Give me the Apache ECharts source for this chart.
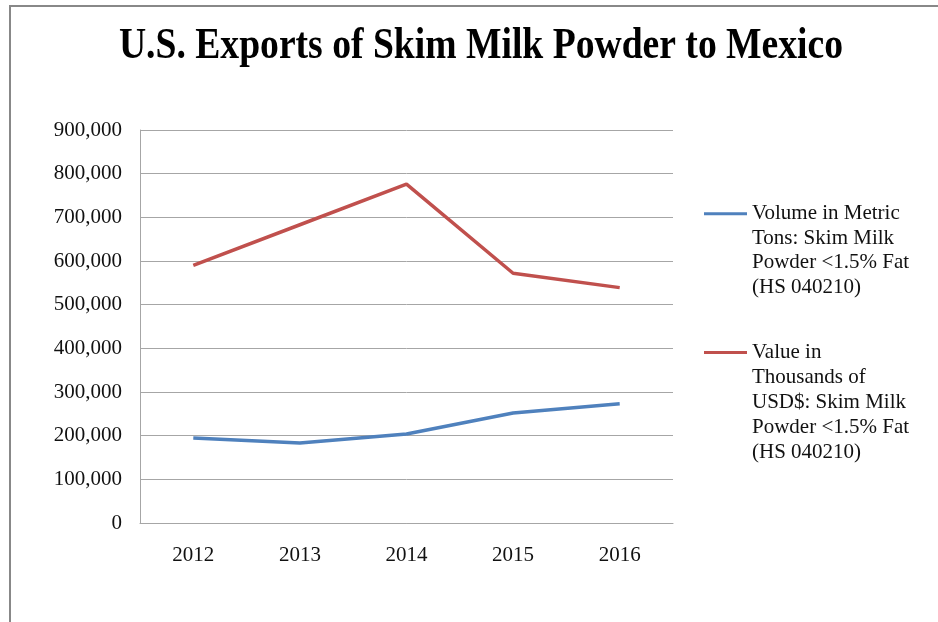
<!DOCTYPE html>
<html>
<head>
<meta charset="utf-8">
<script src="https://cdn.jsdelivr.net/npm/echarts@6/dist/echarts.min.js"></script>
<style>
html,body{margin:0;padding:0;background:#fff;}
#chart{width:938px;height:622px;}
</style>
</head>
<body>
<div id="chart"></div>
<script>
var titleText = 'U.S. Exports of Skim Milk Powder to Mexico';
var years = ['2012', '2013', '2014', '2015', '2016'];
var volumeName = 'Volume in Metric Tons: Skim Milk Powder <1.5% Fat (HS 040210)';
var valueName = 'Value in Thousands of USD$: Skim Milk Powder <1.5% Fat (HS 040210)';
var volumeData = [194500, 183000, 204000, 252000, 273000];
var valueData = [590000, 683000, 776000, 572000, 539000];
var volumeLegendLines = ['Volume in Metric', 'Tons: Skim Milk', 'Powder <1.5% Fat', '(HS 040210)'];
var valueLegendLines = ['Value in', 'Thousands of', 'USD$: Skim Milk', 'Powder <1.5% Fat', '(HS 040210)'];

var FONT = '"Liberation Serif", "Times New Roman", serif';
var chart = echarts.init(document.getElementById('chart'), null, {renderer: 'canvas'});

function padLines(lines) {
  var pad = [];
  for (var i = 0; i < lines.length - 1; i++) pad.push('');
  return pad.concat(lines).join('\n');
}

chart.setOption({
  backgroundColor: '#fff',
  animation: false,
  graphic: [
    {type: 'rect', shape: {x: 10, y: 6, width: 940, height: 630}, style: {fill: 'none', stroke: '#888', lineWidth: 2}, silent: true},
    {type: 'text', x: 481, y: 47, scaleX: 0.855, style: {text: titleText, font: 'bold 44px ' + FONT, fill: '#000', align: 'center', verticalAlign: 'middle'}}
  ],
  grid: {left: 140, right: 265, top: 130, bottom: 99},
  legend: [
    {
      data: [volumeName], left: 704, top: 128, padding: 0, orient: 'vertical',
      itemWidth: 43, itemHeight: 3, icon: 'rect',
      formatter: function () { return padLines(volumeLegendLines); },
      textStyle: {color: '#111', fontFamily: FONT, fontSize: 21, lineHeight: 24.5}
    },
    {
      data: [valueName], left: 704, top: 240, padding: 0, orient: 'vertical',
      itemWidth: 43, itemHeight: 3, icon: 'rect',
      formatter: function () { return padLines(valueLegendLines); },
      textStyle: {color: '#111', fontFamily: FONT, fontSize: 21, lineHeight: 25}
    }
  ],
  xAxis: {
    type: 'category',
    data: years,
    boundaryGap: true,
    axisLine: {show: true, lineStyle: {color: '#a6a6a6', width: 1}},
    axisTick: {show: false},
    axisLabel: {color: '#111', fontFamily: FONT, fontSize: 21, margin: 22}
  },
  yAxis: {
    type: 'value',
    min: 0, max: 900000, interval: 100000,
    axisLine: {show: true, lineStyle: {color: '#a6a6a6', width: 1}},
    axisTick: {show: false},
    splitLine: {show: true, lineStyle: {color: '#a6a6a6', width: 1}},
    axisLabel: {
      color: '#111', fontFamily: FONT, fontSize: 21, margin: 18,
      formatter: function (v) { return v.toString().replace(/\B(?=(\d{3})+(?!\d))/g, ','); }
    }
  },
  series: [
    {name: volumeName, type: 'line', data: volumeData, symbol: 'none', itemStyle: {color: '#4F81BD'}, lineStyle: {color: '#4F81BD', width: 3.5}},
    {name: valueName, type: 'line', data: valueData, symbol: 'none', itemStyle: {color: '#C0504D'}, lineStyle: {color: '#C0504D', width: 3.5}}
  ]
});
</script>
</body>
</html>
